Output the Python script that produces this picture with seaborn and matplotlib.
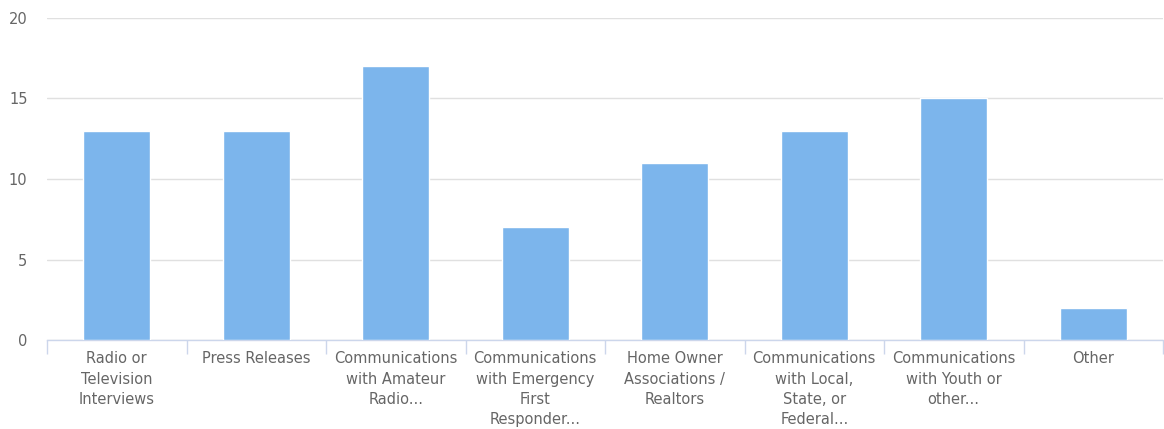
import matplotlib
matplotlib.use("Agg")
import matplotlib.pyplot as plt
import seaborn as sns
import pandas as pd
import numpy as np

categories = ["Radio or\nTelevision\nInterviews", "Press Releases",
              "Communications\nwith Amateur\nRadio...",
              "Communications\nwith Emergency\nFirst\nResponder...",
              "Home Owner\nAssociations /\nRealtors",
              "Communications\nwith Local,\nState, or\nFederal...",
              "Communications\nwith Youth or\nother...", "Other"]
counts = [13, 13, 17, 7, 11, 13, 15, 2]

sns.set_style("white")
plt.rcParams['font.family'] = ['DejaVu Sans']

W, H = 1164, 429
fig = plt.figure(figsize=(W / 100, H / 100), dpi=100)
ax = fig.add_axes([47 / W, (H - 340) / H, (1163 - 47) / W, (340 - 18) / H])

df = pd.DataFrame({"category": categories, "count": counts})
sns.barplot(data=df, x="category", y="count", color="#7cb5ec", saturation=1,
            width=0.48, ax=ax, zorder=3)

ax.set_ylim(0, 20)
ax.set_xlim(-0.5, len(categories) - 0.5)
ax.set_yticks([0, 5, 10, 15, 20])
ax.yaxis.grid(True, color="#e0e0e0", linewidth=1, zorder=0)
ax.set_axisbelow(True)
ax.set_xlabel("")
ax.set_ylabel("")

for s in ["top", "right", "left"]:
    ax.spines[s].set_visible(False)
ax.spines["bottom"].set_color("#ccd6eb")
ax.spines["bottom"].set_linewidth(1)

ax.tick_params(axis="y", length=0, pad=14, labelsize=10.5, labelcolor="#666666")
ax.tick_params(axis="x", which="major", length=0, pad=8, labelsize=10.5, labelcolor="#666666")
ax.set_xticks(np.arange(-0.5, len(categories), 1.0), minor=True)
ax.tick_params(axis="x", which="minor", bottom=True, length=10, width=1,
               color="#ccd6eb", direction="out")
for lbl in ax.get_xticklabels():
    lbl.set_linespacing(1.45)
    lbl.set_verticalalignment("top")

fig.savefig("out.png", dpi=100)
